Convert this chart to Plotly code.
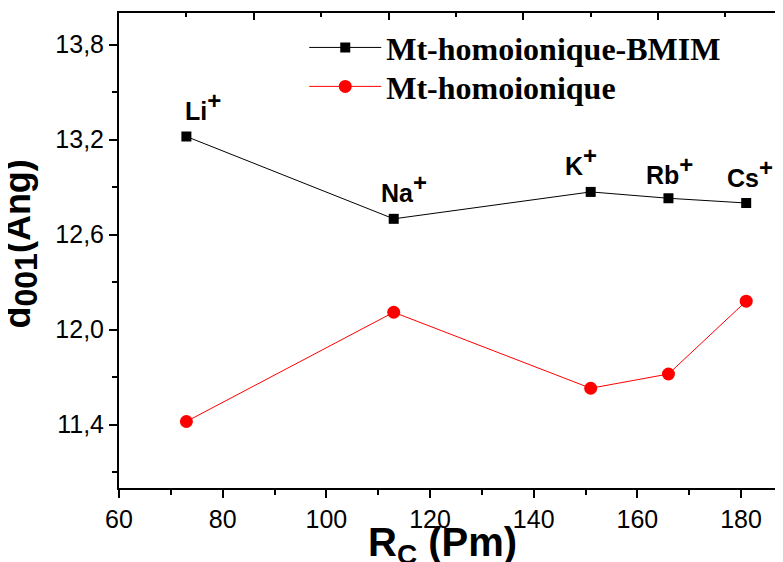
import plotly.graph_objects as go

# ---- data ----
cations = ["Li", "Na", "K", "Rb", "Cs"]
radius_pm = [73, 113, 151, 166, 181]
d001_bmim = [13.22, 12.70, 12.87, 12.83, 12.80]
d001_homo = [11.42, 12.11, 11.63, 11.72, 12.18]
series_names = ["Mt-homoionique-BMIM", "Mt-homoionique"]
y_tick_vals = [11.4, 12.0, 12.6, 13.2, 13.8]
y_tick_text = ["11,4", "12,0", "12,6", "13,2", "13,8"]
x_tick_vals = [60, 80, 100, 120, 140, 160, 180]
x_title = "<b>R<sub>C</sub> (Pm)</b>"
y_title = "<b>d<sub><span style='font-size:32px'>001</span></sub>(Ang)</b>"

# label offsets (pixels) for cation annotations
label_dx = [17, 10, -10, 1, 4]
label_dy = [10, 10, 10, 7, 9]

fig = go.Figure()
fig.add_trace(go.Scatter(
    x=radius_pm, y=d001_bmim, mode="lines+markers", name="<b>" + series_names[0] + "</b>",
    line=dict(color="black", width=1),
    marker=dict(symbol="square", size=10, color="black"),
    legend="legend",
))
fig.add_trace(go.Scatter(
    x=radius_pm, y=d001_homo, mode="lines+markers", name="<b>" + series_names[1] + "</b>",
    line=dict(color="red", width=1),
    marker=dict(symbol="circle", size=13, color="red"),
    legend="legend2",
))
# invisible trace to activate the top axis
fig.add_trace(go.Scatter(
    x=radius_pm, y=d001_bmim, xaxis="x2", mode="markers",
    marker=dict(opacity=0), showlegend=False, hoverinfo="skip",
))

for c, xv, yv, dx, dy in zip(cations, radius_pm, d001_bmim, label_dx, label_dy):
    fig.add_annotation(
        x=xv, y=yv, xref="x", yref="y",
        text="<b>" + c + "<sup><span style='font-size:24px'>+</span></sup></b>", showarrow=False,
        xanchor="center", yanchor="bottom", xshift=dx, yshift=dy,
        font=dict(family="Liberation Sans", size=25, color="black"),
    )

# axis titles as annotations (the original title runs past the bottom edge)
fig.add_annotation(
    x=0.5, y=0, xref="paper", yref="paper", text=x_title, showarrow=False,
    xanchor="center", yanchor="top", xshift=-9, yshift=-30,
    font=dict(family="Liberation Sans", size=40, color="black"),
)
fig.add_annotation(
    x=0, y=0.5, xref="paper", yref="paper", text=y_title, showarrow=False,
    textangle=-90, xanchor="right", yanchor="middle", xshift=-73, yshift=6,
    font=dict(family="Liberation Sans", size=36, color="black"),
)

legend_style = dict(
    xanchor="left", yanchor="top", bgcolor="rgba(0,0,0,0)",
    font=dict(family="Liberation Serif", size=32, color="black"),
    itemwidth=72,
)

fig.update_layout(
    width=775, height=554,
    margin=dict(l=111, r=0, t=5, b=74, autoexpand=False),
    paper_bgcolor="white", plot_bgcolor="white",
    font=dict(family="Liberation Sans", color="black"),
    legend=dict(x=0.279, y=0.985, **legend_style),
    legend2=dict(x=0.279, y=0.903, **legend_style),
    xaxis=dict(
        range=[60, 188.1], tickmode="array", tickvals=x_tick_vals, automargin=False,
        ticks="outside", ticklen=8, tickwidth=1.5, tickcolor="black",
        minor=dict(tickmode="linear", tick0=60, dtick=10, ticks="outside", ticklen=5, tickwidth=1.5, tickcolor="black"),
        showline=True, linewidth=2, linecolor="black", showgrid=False, zeroline=False,
        tickfont=dict(family="Liberation Sans", size=25, color="black"),
    ),
    xaxis2=dict(
        overlaying="x", side="top", anchor="y", range=[60, 188.1], automargin=False,
        tickmode="linear", tick0=60, dtick=26,
        ticks="inside", ticklen=7, tickwidth=1.5, tickcolor="black",
        minor=dict(tickmode="linear", tick0=60, dtick=13, ticks="inside", ticklen=4, tickwidth=1.5, tickcolor="black"),
        showticklabels=False, showline=True, linewidth=2, linecolor="black",
        showgrid=False, zeroline=False,
    ),
    yaxis=dict(
        range=[11.0, 14.0], tickmode="array", tickvals=y_tick_vals, ticktext=y_tick_text, automargin=False,
        ticks="outside", ticklen=8, tickwidth=1.5, tickcolor="black",
        minor=dict(tickmode="linear", tick0=11.1, dtick=0.6, ticks="outside", ticklen=5, tickwidth=1.5, tickcolor="black"),
        showline=True, linewidth=2, linecolor="black", showgrid=False, zeroline=False,
        tickfont=dict(family="Liberation Sans", size=25, color="black"),
    ),
)

fig.write_html("out.html")
